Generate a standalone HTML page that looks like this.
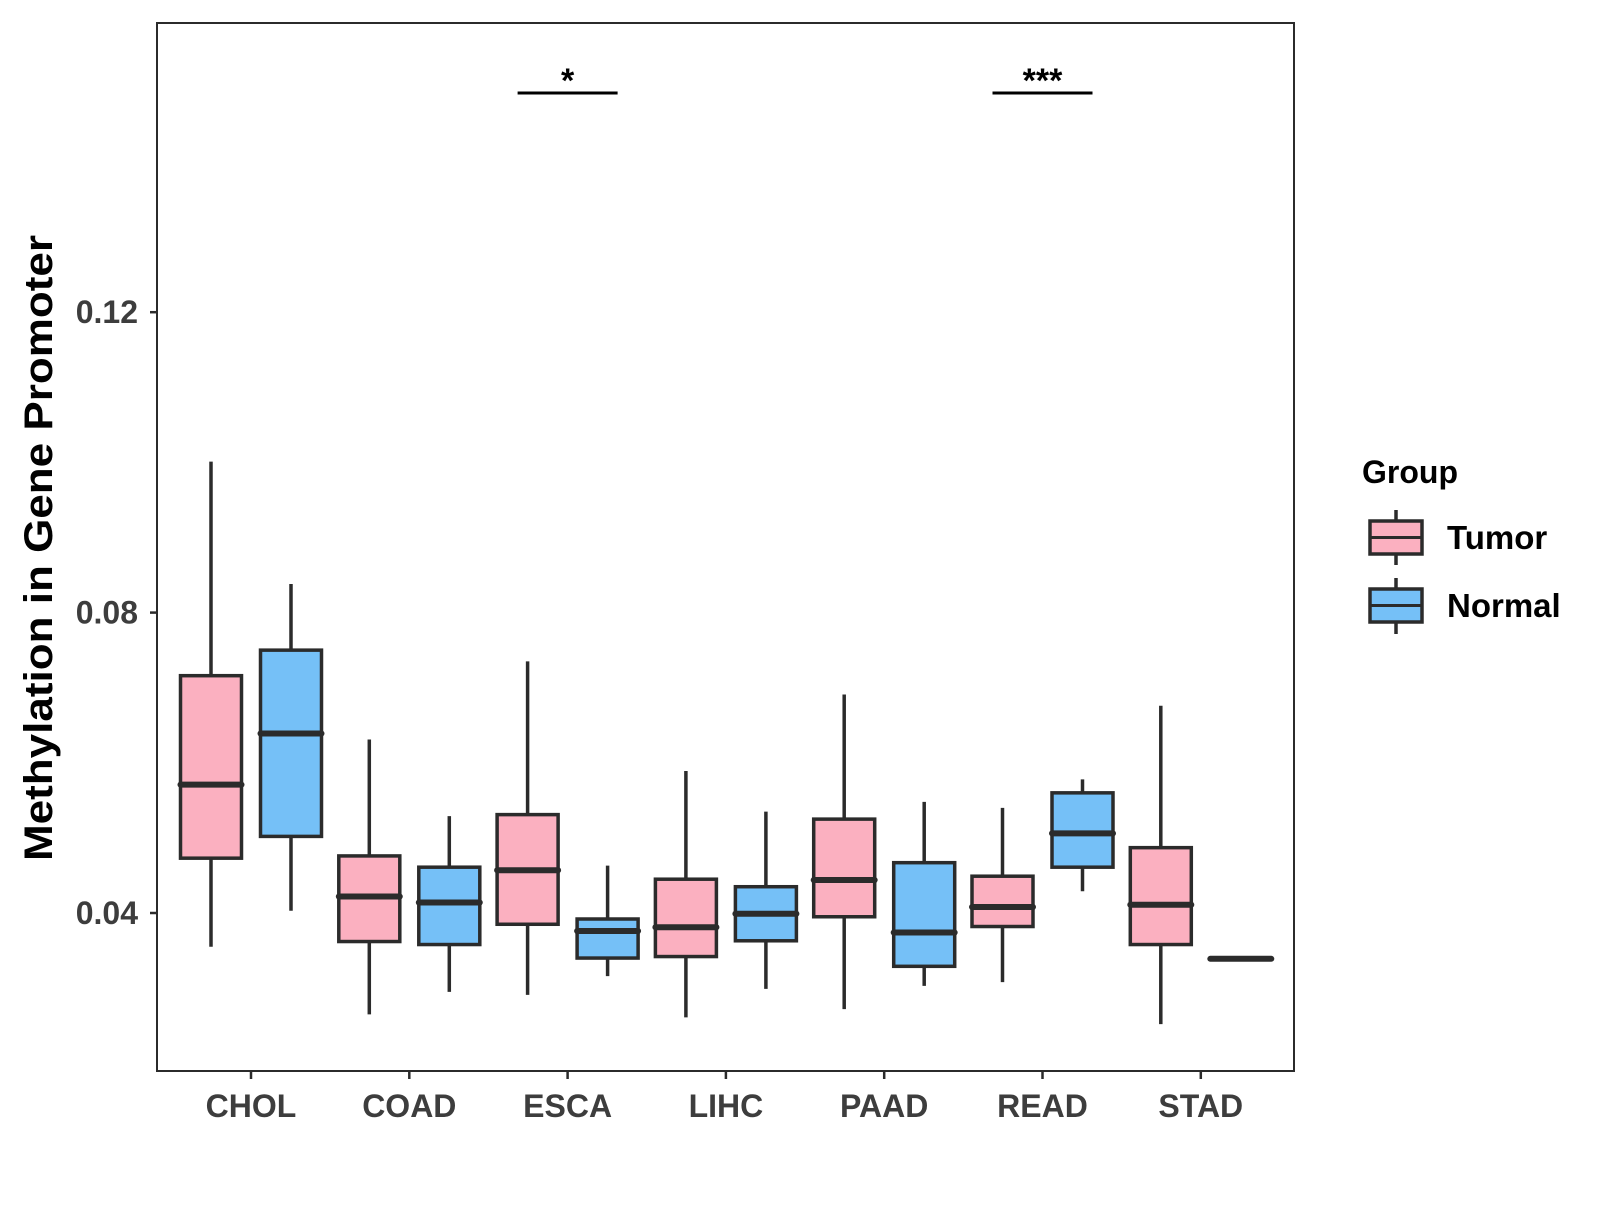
<!DOCTYPE html>
<html><head><meta charset="utf-8"><style>
body{margin:0;background:#fff}
text{font-family:"Liberation Sans",Arial,sans-serif;font-weight:bold}
</style></head><body>
<svg id="chart" width="1600" height="1200" xmlns="http://www.w3.org/2000/svg">
<rect x="157" y="23" width="1137" height="1048" fill="#fff" stroke="#2b2b2b" stroke-width="2"/>
<g id="marks"></g>
<text x="39" y="548" transform="rotate(-90 39 548)" text-anchor="middle" dominant-baseline="central" font-size="40" textLength="626" lengthAdjust="spacingAndGlyphs" fill="#000">Methylation in Gene Promoter</text>
<text x="1362" y="483" font-size="32" fill="#000">Group</text>
<g>
<line x1="1396" y1="510" x2="1396" y2="565" stroke="#2b2b2b" stroke-width="3.5"/>
<rect x="1370" y="521" width="52" height="33" fill="#FBB0C0" stroke="#2b2b2b" stroke-width="3.5"/>
<line x1="1370" y1="537.5" x2="1422" y2="537.5" stroke="#2b2b2b" stroke-width="3"/>
<text x="1447" y="549" font-size="33" fill="#000">Tumor</text>
</g>
<g>
<line x1="1396" y1="578" x2="1396" y2="634" stroke="#2b2b2b" stroke-width="3.5"/>
<rect x="1370" y="589" width="52" height="33" fill="#75C0F7" stroke="#2b2b2b" stroke-width="3.5"/>
<line x1="1370" y1="605.5" x2="1422" y2="605.5" stroke="#2b2b2b" stroke-width="3"/>
<text x="1447" y="617" font-size="33" fill="#000">Normal</text>
</g>
</svg>
<script>
const categories=["CHOL","COAD","ESCA","LIHC","PAAD","READ","STAD"];
// [whiskerLow, q1, median, q3, whiskerHigh]
const tumorStats=[[0.0355,0.0473,0.0571,0.0716,0.1001],[0.0265,0.0362,0.0422,0.0476,0.0631],[0.0291,0.0385,0.0457,0.0531,0.0735],[0.0261,0.0342,0.0381,0.0445,0.0589],[0.0272,0.0395,0.0444,0.0525,0.0691],[0.0308,0.0382,0.0408,0.0449,0.0540],[0.0252,0.0358,0.0411,0.0487,0.0676]];
const normalStats=[[0.0403,0.0502,0.0639,0.0750,0.0838],[0.0295,0.0358,0.0414,0.0461,0.0529],[0.0316,0.0340,0.0376,0.0392,0.0463],[0.0299,0.0363,0.0399,0.0435,0.0535],[0.0303,0.0329,0.0374,0.0467,0.0548],[0.0429,0.0461,0.0506,0.0560,0.0578],[0.0339,0.0339,0.0339,0.0339,0.0339]];
const yTicks=[0.04,0.08,0.12];
const yTickLabels=["0.04","0.08","0.12"];
const sigCategories=["ESCA","READ"];
const sigLabels=["*","***"];
const yMax=0.1585;

const NS="http://www.w3.org/2000/svg";
const g=document.getElementById("marks");
function y(v){return 913-(v-0.04)*7510;}
function x(i){return 251+i*158.3;}
function mk(tag,attrs){const e=document.createElementNS(NS,tag);for(const k in attrs)e.setAttribute(k,attrs[k]);g.appendChild(e);return e;}
const col="#2b2b2b";
yTicks.forEach((t,i)=>{
  const l=mk("line",{x1:150,x2:157,y1:y(t),y2:y(t),stroke:col,"stroke-width":2.5});
  
  
  const tx=mk("text",{x:138,y:y(t),"text-anchor":"end","dominant-baseline":"central","font-size":32,fill:"#3d3d3d"});
  tx.textContent=yTickLabels[i];
  
  
});
categories.forEach((c,i)=>{
  const l=mk("line",{x1:x(i),x2:x(i),y1:1071,y2:1079,stroke:col,"stroke-width":2.5});
  
  
  const tx=mk("text",{x:x(i),y:1106,"text-anchor":"middle","dominant-baseline":"central","font-size":32,fill:"#3d3d3d"});
  tx.textContent=c;
  
  
});
function box(cx,s,fill,name){
  const w=61;
  const wl=mk("line",{x1:cx,x2:cx,y1:y(s[0]),y2:y(s[4]),stroke:col,"stroke-width":3.5});
  
  
  const r=mk("rect",{x:cx-w/2,y:y(s[3]),width:w,height:Math.max(0,y(s[1])-y(s[3])),fill:fill,stroke:col,"stroke-width":3.5});
  
  
  const m=mk("line",{x1:cx-w/2,x2:cx+w/2,y1:y(s[2]),y2:y(s[2]),stroke:col,"stroke-width":6,"stroke-linecap":"round"});
  
  
}
categories.forEach((c,i)=>{
  box(x(i)-40,tumorStats[i],"#FBB0C0",c.toLowerCase()+"-tumor");
  box(x(i)+40,normalStats[i],"#75C0F7",c.toLowerCase()+"-normal");
});
sigCategories.forEach((c,k)=>{
  const i=categories.indexOf(c);
  const l=mk("line",{x1:x(i)-50,x2:x(i)+50,y1:93,y2:93,stroke:"#000","stroke-width":3});
  
  
  const t=mk("text",{x:x(i),y:92,"text-anchor":"middle","font-size":34,fill:"#000"});
  t.textContent=sigLabels[k];
  
  
});
</script>
</body></html>
